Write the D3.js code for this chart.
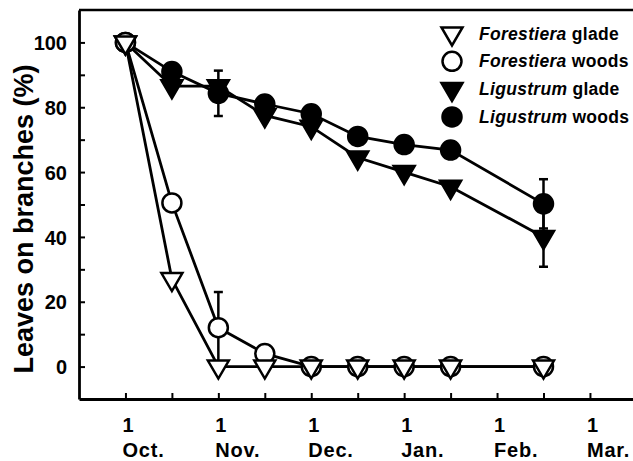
<!DOCTYPE html>
<html>
<head>
<meta charset="utf-8">
<script src="https://cdn.jsdelivr.net/npm/d3@7"></script>
<style>
  body { margin: 0; background: #ffffff; }
  svg text { font-family: "Liberation Sans", Arial, sans-serif; font-weight: bold; fill: #000000; }
</style>
</head>
<body>
<div id="my_datavis"></div>
<script>
// months after 1 Oct.
var sampleTimes = [0, 0.5, 1, 1.5, 2, 2.5, 3, 3.5, 4.5];
var forestieraGlade = [100, 27, 0, 0, 0, 0, 0, 0, 0];
var forestieraWoods = [100, 50.5, 12, 4, 0, 0, 0, 0, 0];
var ligustrumGlade = [100, 86.5, 86.5, 77.5, 74, 64.5, 60, 55.5, 40];
var ligustrumWoods = [100, 91, 84.3, 81, 78, 71, 68.5, 66.8, 50.2];
var forestieraWoodsErr = [0, 0, 11, 0, 0, 0, 0, 0, 0];
var ligustrumGladeErr = [0, 0, 0, 0, 0, 0, 0, 0, 9.2];
var ligustrumWoodsErr = [0, 0, 7, 0, 0, 0, 0, 0, 7.6];
var monthTicks = [0, 1, 2, 3, 4, 5];
var monthNames = ["Oct.", "Nov.", "Dec.", "Jan.", "Feb.", "Mar."];
var yTicks = [0, 10, 20, 30, 40, 50, 60, 70, 80, 90, 100];
var legendSpecies = ["Forestiera", "Forestiera", "Ligustrum", "Ligustrum"];
var legendHabitat = ["glade", "woods", "glade", "woods"];

var width = 633, height = 461;

var svg = d3.select("#my_datavis")
  .append("svg")
  .attr("width", width)
  .attr("height", height);

var x = d3.scaleLinear().domain([-0.5, 5.5]).range([79, 636.4]);
var y = d3.scaleLinear().domain([-10, 110]).range([399, 10]);

// drawing order: Ligustrum under, Forestiera on top
var series = [
  { values: ligustrumWoods, err: ligustrumWoodsErr, shape: "circle", fill: "#000000" },
  { values: ligustrumGlade, err: ligustrumGladeErr, shape: "triangle", fill: "#000000" },
  { values: forestieraWoods, err: forestieraWoodsErr, shape: "circle", fill: "#ffffff" },
  { values: forestieraGlade, err: null, shape: "triangle", fill: "#ffffff" }
];

function symbolPath(shape) {
  if (shape == "circle") return d3.symbol().type(d3.symbolCircle).size(Math.PI * 9.5 * 9.5)();
  return "M-10.5,-6L10.5,-6L0,12Z";
}

// frame top
svg.append("line")
  .attr("x1", x.range()[0]).attr("x2", x.range()[1])
  .attr("y1", y.range()[1]).attr("y2", y.range()[1])
  .attr("stroke", "#000").attr("stroke-width", 2.5);

var yAxis = svg.append("g")
  .attr("transform", "translate(" + x.range()[0] + ",0)")
  .call(d3.axisLeft(y).tickValues(yTicks).tickSize(-6).tickSizeOuter(0).tickPadding(12)
    .tickFormat(function(d) { return d % 20 == 0 ? d : ""; }));
yAxis.selectAll("text").style("font-size", "20px").attr("dy", "0.36em");

var xAxis = svg.append("g")
  .attr("transform", "translate(0," + y.range()[0] + ")")
  .call(d3.axisBottom(x).tickValues(d3.range(0, 5.01, 0.5)).tickSize(-6).tickSizeOuter(0).tickFormat(""));

svg.selectAll(".domain").attr("stroke", "#000").attr("stroke-width", 2.8);
svg.selectAll(".tick line").attr("stroke", "#000").attr("stroke-width", 2);

svg.selectAll("monthday")
  .data(monthTicks)
  .enter()
  .append("text")
  .attr("x", function(d) { return x(d) - 3; })
  .attr("y", 432)
  .style("font-size", "20px")
  .text("1");

svg.selectAll("monthname")
  .data(monthTicks)
  .enter()
  .append("text")
  .attr("x", function(d) { return x(d) - 3; })
  .attr("y", 457)
  .style("font-size", "20px")
  .style("letter-spacing", "0.8px")
  .text(function(d, i) { return monthNames[i]; });

svg.append("text")
  .attr("transform", "translate(33,219) rotate(-90)")
  .attr("text-anchor", "middle")
  .style("font-size", "27px")
  .text("Leaves on branches (%)");

var line = d3.line()
  .x(function(d, i) { return x(sampleTimes[i]); })
  .y(function(d) { return y(d); });

series.forEach(function(s) {
  svg.append("path")
    .attr("d", line(s.values))
    .attr("fill", "none")
    .attr("stroke", "#000")
    .attr("stroke-width", 2.8);
});

series.forEach(function(s) {
  if (s.err) {
    var bars = svg.append("g");
    s.values.forEach(function(v, i) {
      var e = s.err[i];
      if (!e) return;
      var cx = x(sampleTimes[i]);
      bars.append("line")
        .attr("x1", cx).attr("x2", cx)
        .attr("y1", y(v - e)).attr("y2", y(v + e))
        .attr("stroke", "#000").attr("stroke-width", 2.5);
      [v - e, v + e].forEach(function(c) {
        bars.append("line")
          .attr("x1", cx - 4.5).attr("x2", cx + 4.5)
          .attr("y1", y(c)).attr("y2", y(c))
          .attr("stroke", "#000").attr("stroke-width", 2.5);
      });
    });
  }
  svg.append("g")
    .selectAll("path")
    .data(s.values)
    .enter()
    .append("path")
    .attr("d", symbolPath(s.shape))
    .attr("transform", function(d, i) { return "translate(" + x(sampleTimes[i]) + "," + y(d) + ")"; })
    .attr("fill", s.fill)
    .attr("stroke", "#000")
    .attr("stroke-width", 2.5);
});

// legend
var legendShapes = ["triangle", "circle", "triangle", "circle"];
var legendFills = ["#ffffff", "#ffffff", "#000000", "#000000"];
var legend = svg.selectAll("legend")
  .data(legendSpecies)
  .enter()
  .append("g")
  .attr("transform", function(d, i) { return "translate(452," + (33.5 + i * 27.8) + ")"; });

legend.append("path")
  .attr("d", function(d, i) { return symbolPath(legendShapes[i]); })
  .attr("fill", function(d, i) { return legendFills[i]; })
  .attr("stroke", "#000")
  .attr("stroke-width", 2.5);

var legendText = legend.append("text")
  .attr("x", 27)
  .attr("y", 6)
  .style("font-size", "17.5px")
  .style("letter-spacing", "0.3px");
legendText.append("tspan")
  .style("font-style", "italic")
  .text(function(d) { return d; });
legendText.append("tspan")
  .text(function(d, i) { return " " + legendHabitat[i]; });
</script>
</body>
</html>
